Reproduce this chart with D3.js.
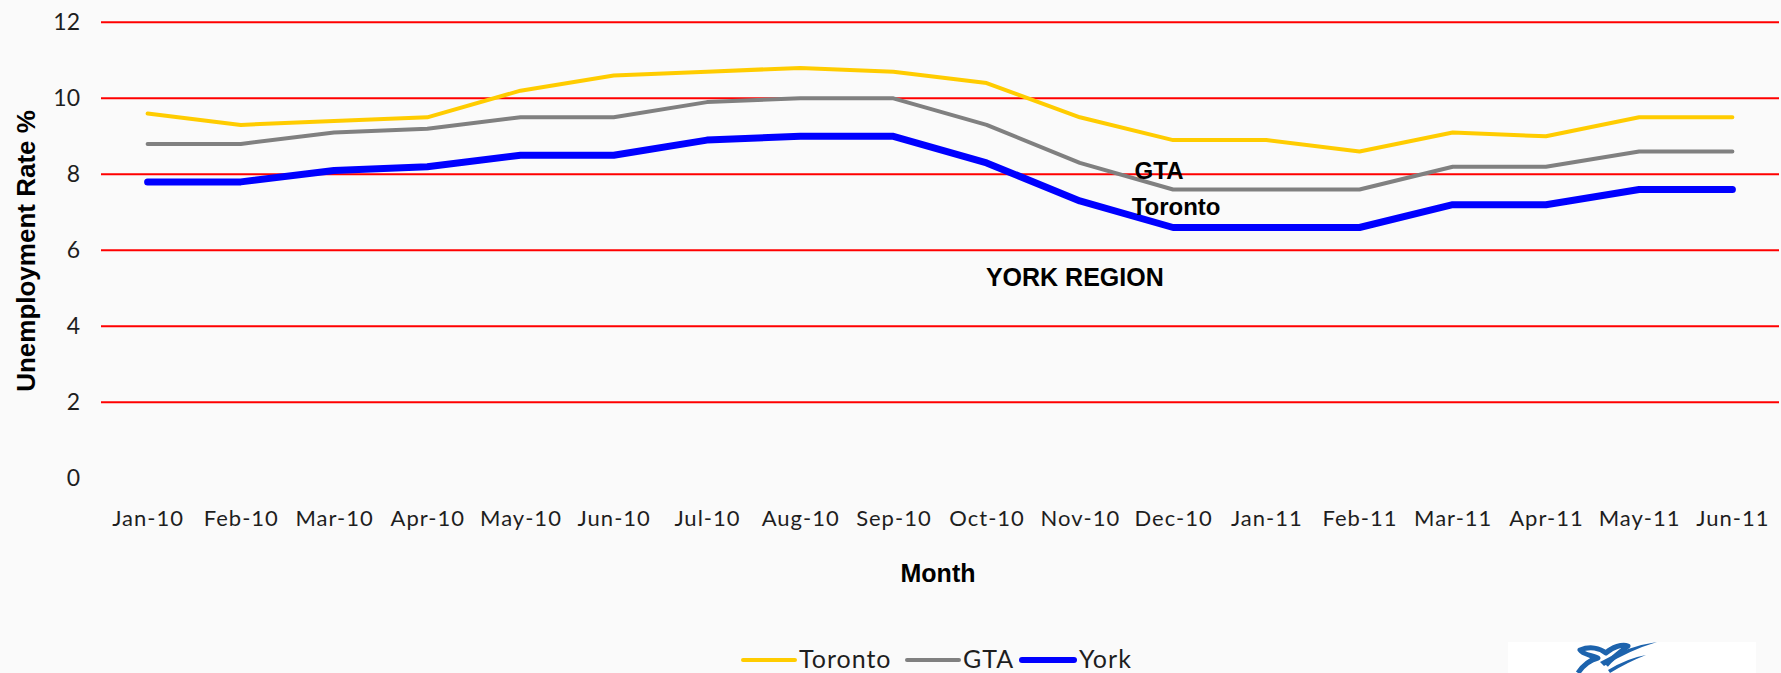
<!DOCTYPE html>
<html>
<head>
<meta charset="utf-8">
<script src="https://cdn.jsdelivr.net/npm/d3@7"></script>
<style>
  html, body { margin: 0; padding: 0; background: #fafafa; }
  svg { display: block; }
</style>
</head>
<body>
<svg id="chart" width="1781" height="673"></svg>
<script>
// ---- data ----
const months = ["Jan-10","Feb-10","Mar-10","Apr-10","May-10","Jun-10","Jul-10","Aug-10","Sep-10",
                "Oct-10","Nov-10","Dec-10","Jan-11","Feb-11","Mar-11","Apr-11","May-11","Jun-11"];
const toronto = [9.6,9.3,9.4,9.5,10.2,10.6,10.7,10.8,10.7,10.4,9.5,8.9,8.9,8.6,9.1,9.0,9.5,9.5];
const gta     = [8.8,8.8,9.1,9.2,9.5,9.5,9.9,10.0,10.0,9.3,8.3,7.6,7.6,7.6,8.2,8.2,8.6,8.6];
const york    = [7.8,7.8,8.1,8.2,8.5,8.5,8.9,9.0,9.0,8.3,7.3,6.6,6.6,6.6,7.2,7.2,7.6,7.6];
const yTicks  = [0,2,4,6,8,10,12];
const gridTicks = [2,4,6,8,10,12];
const seriesNames = ["Toronto","GTA","York"];
const seriesColors = ["#FFCC00","#808080","#0000FF"];
const seriesWidths = [4,4,7];
const annotations = [
  {text:"GTA", x:"Dec-10", dx:-14, v:7.88, size:24},
  {text:"Toronto", x:"Dec-10", dx:3, v:6.93, size:24},
  {text:"YORK REGION", x:"Nov-10", dx:-5, v:5.06, size:25}
];

(function () {
const svg = d3.select("#chart");
const pLeft = 101, pRight = 1779, pTop = 22.3, pBottom = 478.3;

const x = d3.scalePoint().domain(months).range([pLeft, pRight]).padding(0.5);
const y = d3.scaleLinear().domain([0, 12]).range([pBottom, pTop]);

// gridlines
svg.append("g").selectAll("line").data(gridTicks).join("line")
  .attr("x1", pLeft).attr("x2", pRight)
  .attr("y1", d => y(d)).attr("y2", d => y(d))
  .attr("stroke", "#FF0000").attr("stroke-width", 2);

// y axis
const yAxis = svg.append("g").attr("transform", `translate(${pLeft},0)`)
  .call(d3.axisLeft(y).tickValues(yTicks).tickSize(0).tickPadding(21).tickFormat(d3.format("d")));
yAxis.select(".domain").remove();
yAxis.selectAll("text").attr("font-family", "Lato, 'Open Sans', sans-serif")
  .attr("font-size", 23).attr("fill", "#1e1e1e");

// x axis
const xAxis = svg.append("g").attr("transform", `translate(0,${pBottom})`)
  .call(d3.axisBottom(x).tickSize(0).tickPadding(32));
xAxis.select(".domain").remove();
xAxis.selectAll("text").attr("font-family", "Lato, 'Open Sans', sans-serif")
  .attr("font-size", 22).attr("letter-spacing", 1).attr("fill", "#1e1e1e");

// lines
const seriesData = [toronto, gta, york];
const line = d3.line().x((d, i) => x(months[i])).y(d => y(d));
svg.append("g").selectAll("path").data(seriesData).join("path")
  .attr("d", d => line(d))
  .attr("fill", "none")
  .attr("stroke", (d, i) => seriesColors[i])
  .attr("stroke-width", (d, i) => seriesWidths[i])
  .attr("stroke-linejoin", "round")
  .attr("stroke-linecap", "round");

// annotations
svg.append("g").selectAll("text").data(annotations).join("text")
  .attr("x", d => x(d.x) + d.dx)
  .attr("y", d => y(d.v))
  .attr("text-anchor", "middle")
  .attr("font-family", "'Liberation Sans', Arial, sans-serif")
  .attr("font-size", d => d.size)
  .attr("font-weight", "bold")
  .attr("fill", "#000")
  .text(d => d.text);

// axis titles
svg.append("text")
  .attr("x", 938).attr("y", 582)
  .attr("text-anchor", "middle")
  .attr("font-family", "'Liberation Sans', Arial, sans-serif")
  .attr("font-weight", "bold").attr("font-size", 25)
  .attr("fill", "#000")
  .text("Month");

svg.append("text")
  .attr("transform", "translate(35,251) rotate(-90)")
  .attr("text-anchor", "middle")
  .attr("font-family", "'Liberation Sans', Arial, sans-serif")
  .attr("font-weight", "bold").attr("font-size", 26)
  .attr("fill", "#000")
  .text("Unemployment Rate %");

// legend
const legendItems = [
  {lx: 743, tx: 799},
  {lx: 907, tx: 963},
  {lx: 1022, tx: 1079}
];
const lg = svg.append("g");
lg.selectAll("line").data(seriesNames).join("line")
  .attr("x1", (d, i) => legendItems[i].lx)
  .attr("x2", (d, i) => legendItems[i].lx + 52)
  .attr("y1", 660).attr("y2", 660)
  .attr("stroke", (d, i) => seriesColors[i])
  .attr("stroke-width", (d, i) => i === 2 ? 6 : 4)
  .attr("stroke-linecap", "round");
lg.selectAll("text").data(seriesNames).join("text")
  .attr("x", (d, i) => legendItems[i].tx)
  .attr("y", 668)
  .attr("font-family", "Lato, 'Open Sans', sans-serif")
  .attr("font-size", 25).attr("letter-spacing", 1)
  .attr("fill", "#1e1e1e")
  .text(d => d);

// logo (decorative)
const logo = svg.append("g");
logo.append("rect").attr("x", 1508).attr("y", 642).attr("width", 248).attr("height", 31).attr("fill", "#fff");
logo.append("path")
  .attr("d", "M1578,673 C1584,664 1590,660 1598,658 C1590,655 1582,654 1580,650 C1590,646 1600,648 1606,653 C1612,647 1622,644 1628,646 C1620,652 1612,658 1606,665")
  .attr("fill", "none").attr("stroke", "#1d63ad").attr("stroke-width", 5).attr("stroke-linejoin", "round");
logo.append("path")
  .attr("d", "M1600,662 Q1628,646 1657,642 Q1630,650 1604,666 Z")
  .attr("fill", "#1d63ad");
logo.append("path")
  .attr("d", "M1608,670 Q1628,658 1646,655 Q1628,662 1610,673 Z")
  .attr("fill", "#1d63ad");
})();
</script>
</body>
</html>
